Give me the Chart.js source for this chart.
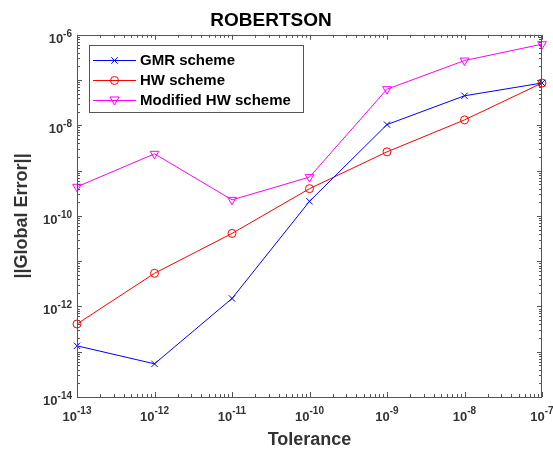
<!DOCTYPE html>
<html>
<head>
<meta charset="utf-8">
<script src="https://cdn.jsdelivr.net/npm/chart.js@4"></script>
<style>
	html, body { margin: 0; padding: 0; background: #fff; }
	#wrap { width: 553px; height: 450px; }
</style>
</head>
<body>
<div id="wrap"><canvas id="errChart"></canvas></div>
<script>
// values
const tolerance = [1e-13, 1e-12, 1e-11, 1e-10, 1e-9, 1e-8, 1e-7];
const gmrError = [1.35e-13, 5.4e-14, 1.5e-12, 2.1e-10, 1.04e-8, 4.5e-8, 8.6e-8];
const hwError = [4.1e-13, 5.4e-12, 4.1e-11, 4.0e-10, 2.6e-9, 1.32e-8, 8.6e-8];
const modHwError = [4.4e-10, 2.35e-9, 2.26e-10, 7.2e-10, 6.3e-8, 2.7e-7, 6.2e-7];
const seriesNames = ["GMR scheme", "HW scheme", "Modified HW scheme"];
const xTickExps = [-13, -12, -11, -10, -9, -8, -7];
const yTickExps = [-14, -12, -10, -8, -6];

const axisColor = "#555555";
const labelColor = "#333333";

function toPoints(ys) {
	return tolerance.map((x, i) => ({ x: x, y: ys[i] }));
}

function drawMarker(ctx, style, x, y, color) {
	ctx.save();
	ctx.strokeStyle = color;
	ctx.lineWidth = 1;
	ctx.beginPath();
	if (style === "cross") {
		const r = 3.2;
		ctx.moveTo(x - r, y - r); ctx.lineTo(x + r, y + r);
		ctx.moveTo(x - r, y + r); ctx.lineTo(x + r, y - r);
	} else if (style === "circle") {
		ctx.arc(x, y, 4, 0, Math.PI * 2);
	} else {
		ctx.moveTo(x - 4.5, y - 3.5); ctx.lineTo(x + 4.5, y - 3.5); ctx.lineTo(x, y + 4.5); ctx.closePath();
	}
	ctx.stroke();
	ctx.restore();
}

const markerStyles = ["cross", "circle", "tri"];
const colors = ["#0000ff", "#ff0000", "#ff00ff"];

const framePlugin = {
	id: "frame",
	afterDraw(chart) {
		const ctx = chart.ctx;
		const a = chart.chartArea;
		const xs = chart.scales.x;
		const ys = chart.scales.y;
		ctx.save();
		// box
		ctx.strokeStyle = axisColor;
		ctx.lineWidth = 1;
		ctx.strokeRect(Math.round(a.left) + 0.5, Math.round(a.top) + 0.5, Math.round(a.right - a.left) - 1, Math.round(a.bottom - a.top));
		// minor + major ticks, inward
		ctx.beginPath();
		for (let e = -13; e <= -7; e++) {
			for (let m = 1; m <= 9; m++) {
				const v = m * Math.pow(10, e);
				if (v > 1.0001e-7) break;
				const px = Math.round(xs.getPixelForValue(v)) + 0.5;
				const len = m === 1 ? 5 : 3;
				ctx.moveTo(px, a.bottom); ctx.lineTo(px, a.bottom - len);
				ctx.moveTo(px, a.top); ctx.lineTo(px, a.top + len);
			}
		}
		for (let e = -14; e <= -6; e++) {
			for (let m = 1; m <= 9; m++) {
				const v = m * Math.pow(10, e);
				if (v > 1.0001e-6) break;
				const py = Math.round(ys.getPixelForValue(v)) + 0.5;
				const len = m === 1 ? 5 : 3;
				ctx.moveTo(a.left, py); ctx.lineTo(a.left + len, py);
				ctx.moveTo(a.right, py); ctx.lineTo(a.right - len, py);
			}
		}
		ctx.stroke();

		// tick labels
		ctx.fillStyle = labelColor;
		ctx.textBaseline = "alphabetic";
		const baseFont = "bold 13px 'Liberation Sans', Arial, sans-serif";
		const expFont = "bold 10px 'Liberation Sans', Arial, sans-serif";
		xTickExps.forEach((e) => {
			const px = xs.getPixelForValue(Math.pow(10, e));
			ctx.font = baseFont;
			const w1 = ctx.measureText("10").width;
			ctx.font = expFont;
			const w2 = ctx.measureText(String(e)).width;
			const x0 = px - (w1 + w2) / 2;
			ctx.textAlign = "left";
			ctx.font = baseFont;
			ctx.fillText("10", x0, a.bottom + 24);
			ctx.font = expFont;
			ctx.fillText(String(e), x0 + w1, a.bottom + 17);
		});
		yTickExps.forEach((e) => {
			const py = ys.getPixelForValue(Math.pow(10, e));
			ctx.font = expFont;
			const w2 = ctx.measureText(String(e)).width;
			ctx.font = baseFont;
			const w1 = ctx.measureText("10").width;
			const xr = a.left - 5;
			ctx.textAlign = "left";
			ctx.font = baseFont;
			ctx.fillText("10", xr - w1 - w2, py + 8);
			ctx.font = expFont;
			ctx.fillText(String(e), xr - w2, py + 2);
		});

		// axis titles
		ctx.fillStyle = labelColor;
		ctx.font = "bold 18px 'Liberation Sans', Arial, sans-serif";
		ctx.textAlign = "center";
		ctx.textBaseline = "middle";
		ctx.fillText("Tolerance", (a.left + a.right) / 2, 440);
		ctx.save();
		ctx.translate(22, (a.top + a.bottom) / 2);
		ctx.rotate(-Math.PI / 2);
		ctx.fillText("||Global Error||", 0, 0);
		ctx.restore();

		// legend
		const lx = 89, ly = 45, lw = 214, lh = 67;
		ctx.fillStyle = "#fff";
		ctx.fillRect(lx, ly, lw, lh);
		ctx.strokeStyle = axisColor;
		ctx.strokeRect(lx + 0.5, ly + 0.5, lw, lh);
		ctx.font = "bold 15px 'Liberation Sans', Arial, sans-serif";
		ctx.textAlign = "left";
		seriesNames.forEach((name, i) => {
			const y = 60 + i * 20;
			ctx.strokeStyle = colors[i];
			ctx.beginPath();
			ctx.moveTo(93, y + 0.5); ctx.lineTo(136, y + 0.5);
			ctx.stroke();
			drawMarker(ctx, markerStyles[i], 114.5, y + 0.5, colors[i]);
			ctx.fillStyle = "#000";
			ctx.fillText(name, 140, y + 1);
		});
		ctx.restore();
	},
};

const ctx = document.getElementById("errChart").getContext("2d");
const errChart = new Chart(ctx, {
	type: "line",
	data: {
		datasets: [
			{
				label: seriesNames[0],
				data: toPoints(gmrError),
				borderColor: colors[0],
				pointStyle: "crossRot",
				pointRadius: 4.5,
			},
			{
				label: seriesNames[1],
				data: toPoints(hwError),
				borderColor: colors[1],
				pointStyle: "circle",
				pointRadius: 4,
			},
			{
				label: seriesNames[2],
				data: toPoints(modHwError),
				borderColor: colors[2],
				pointStyle: "triangle",
				pointRotation: 180,
				pointRadius: 5,
			},
		].map((d) => Object.assign(d, { borderWidth: 1, pointBorderWidth: 1, backgroundColor: "rgba(0,0,0,0)", pointBackgroundColor: "rgba(0,0,0,0)", pointBorderColor: d.borderColor, tension: 0, clip: false })),
	},
	options: {
		responsive: true,
		maintainAspectRatio: false,
		animation: false,
		layout: { padding: { left: 0, right: 11, top: 0, bottom: 0 } },
		plugins: {
			legend: { display: false },
			tooltip: { enabled: false },
			title: {
				display: true,
				text: "ROBERTSON",
				color: "#000",
				font: { size: 19, weight: "bold", family: "'Liberation Sans', Arial, sans-serif" },
				padding: { top: 9, bottom: 3 },
			},
		},
		scales: {
			x: {
				type: "logarithmic",
				min: 1e-13,
				max: 1e-7,
				grid: { display: false },
				border: { display: false },
				ticks: { display: false },
				afterFit: (s) => { s.height = 53; },
			},
			y: {
				type: "logarithmic",
				min: 1e-14,
				max: 1e-6,
				grid: { display: false },
				border: { display: false },
				ticks: { display: false },
				afterFit: (s) => { s.width = 77; },
			},
		},
	},
	plugins: [framePlugin],
});
</script>
</body>
</html>
